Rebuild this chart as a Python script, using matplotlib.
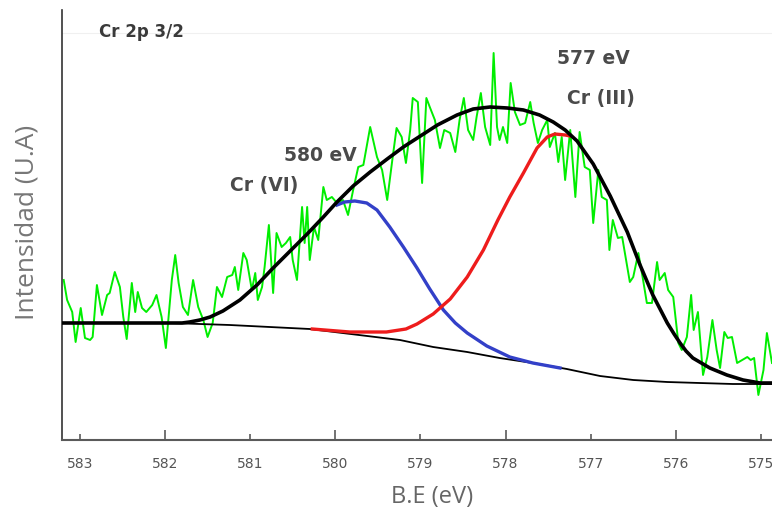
import numpy as np
import matplotlib
matplotlib.use('Agg')
from matplotlib import pyplot as plt
from matplotlib.ticker import FixedLocator, FormatStrFormatter

# raw spectrum (green), binding energy in eV and intensity (a.u.)
be_raw = [583.19, 583.15, 583.09, 583.05, 582.99, 582.94, 582.88, 582.85, 582.80, 582.74,
          582.68, 582.65, 582.59, 582.53, 582.49, 582.45, 582.39, 582.35, 582.32, 582.27,
          582.22, 582.15, 582.10, 582.04, 581.99, 581.92, 581.88, 581.84, 581.79, 581.73,
          581.67, 581.61, 581.55, 581.50, 581.44, 581.39, 581.33, 581.27, 581.21, 581.18,
          581.14, 581.08, 581.04, 580.98, 580.94, 580.91, 580.86, 580.83, 580.78, 580.73,
          580.69, 580.63, 580.58, 580.53, 580.50, 580.45, 580.39, 580.36, 580.33, 580.30,
          580.25, 580.20, 580.14, 580.10, 580.04, 579.98, 579.91, 579.85, 579.79, 579.73,
          579.67, 579.59, 579.51, 579.45, 579.39, 579.33, 579.28, 579.22, 579.17, 579.12,
          579.09, 579.03, 578.98, 578.93, 578.89, 578.83, 578.77, 578.72, 578.65, 578.59,
          578.54, 578.49, 578.44, 578.38, 578.34, 578.29, 578.24, 578.18, 578.14, 578.10,
          578.07, 578.03, 577.98, 577.94, 577.89, 577.83, 577.77, 577.71, 577.67, 577.62,
          577.57, 577.51, 577.48, 577.42, 577.38, 577.34, 577.30, 577.24, 577.18, 577.13,
          577.07, 577.01, 576.97, 576.91, 576.87, 576.81, 576.78, 576.74, 576.68, 576.63,
          576.54, 576.50, 576.44, 576.39, 576.34, 576.28, 576.22, 576.19, 576.13, 576.09,
          576.03, 575.97, 575.93, 575.87, 575.82, 575.79, 575.74, 575.68, 575.63, 575.57,
          575.52, 575.48, 575.43, 575.39, 575.34, 575.28, 575.22, 575.16, 575.12, 575.08,
          575.03, 574.97, 574.93, 574.87]
int_raw = [160, 140, 128, 98, 132, 102, 100, 103, 155, 125,
           145, 147, 168, 153, 123, 101, 157, 128, 148, 132,
           128, 135, 145, 123, 92, 160, 185, 157, 133, 125,
           160, 133, 120, 103, 117, 153, 143, 163, 165, 173,
           150, 187, 180, 150, 167, 140, 153, 173, 215, 147,
           207, 193, 197, 203, 180, 160, 233, 197, 233, 180,
           213, 200, 253, 240, 243, 237, 240, 225, 250, 273,
           275, 313, 283, 270, 240, 280, 312, 303, 277, 310,
           342, 338, 257, 342, 333, 320, 292, 310, 307, 288,
           320, 342, 310, 300, 323, 347, 313, 295, 387, 313,
           300, 313, 297, 357, 328, 315, 317, 338, 317, 297,
           310, 320, 293, 307, 278, 303, 260, 310, 243, 308,
           273, 270, 217, 270, 243, 240, 190, 220, 202, 203,
           158, 163, 187, 163, 137, 137, 178, 160, 167, 150,
           143, 97, 90, 103, 145, 110, 128, 65, 83, 120,
           90, 72, 108, 102, 103, 77, 80, 83, 80, 82,
           45, 70, 107, 77]

# fitted envelope (black)
be_fit = [583.21, 581.94, 581.80, 581.71, 581.59, 581.47, 581.32, 581.12, 580.92, 580.73,
          580.53, 580.33, 580.14, 579.98, 579.79, 579.59, 579.39, 579.20, 579.00, 578.80,
          578.57, 578.38, 578.18, 577.98, 577.79, 577.60, 577.44, 577.30, 577.16, 576.97,
          576.77, 576.57, 576.42, 576.27, 576.10, 576.02, 575.95, 575.88, 575.80, 575.70,
          575.60, 575.40, 575.21, 575.01, 574.87]
int_fit = [117, 117, 117, 118, 120, 123, 129, 140, 155, 172,
           189, 206, 223, 238, 254, 268, 281, 293, 304, 315,
           325, 331, 333, 332, 330, 325, 318, 310, 299, 276,
           244, 208, 175, 145, 117, 106, 97, 89, 82, 77,
           72, 65, 60, 57, 57]

# Shirley background
be_bg = [583.21, 581.94, 581.24, 580.30, 579.24, 578.85, 578.45, 578.07, 577.68, 577.28,
         576.89, 576.50, 576.10, 575.72, 575.33, 574.87]
int_bg = [117, 117, 115, 111, 100, 93, 88, 82, 77, 71,
          64, 60, 58, 57, 56, 56]

# Cr(VI) component (blue)
be_cr6 = [579.98, 579.89, 579.77, 579.63, 579.51, 579.36, 579.20, 579.04, 578.89, 578.73,
          578.59, 578.45, 578.22, 577.95, 577.68, 577.36]
int_cr6 = [235, 238, 239, 237, 230, 213, 193, 172, 151, 130,
           117, 107, 94, 83, 77, 72]

# Cr(III) component (red)
be_cr3 = [580.27, 579.83, 579.40, 579.17, 579.04, 578.85, 578.65, 578.45, 578.26, 578.09,
          577.95, 577.79, 577.63, 577.51, 577.42, 577.30, 577.24]
int_cr3 = [111, 108, 108, 111, 116, 126, 141, 163, 190, 220,
           243, 267, 292, 303, 306, 305, 304]

major_ticks = [582, 580, 578, 576]
minor_ticks = [583, 581, 579, 577, 575]

fig = plt.figure(figsize=(7.72, 5.13), dpi=100)
ax = fig.add_axes([62/772, 73/513, 710/772, 430/513])

ax.plot(be_raw, int_raw, color='#00ee00', lw=1.4, zorder=2)
ax.plot(be_bg, int_bg, color='black', lw=1.3, zorder=3)
ax.plot(be_cr6, int_cr6, color='#3340c8', lw=2.4, zorder=4)
ax.plot(be_cr3, int_cr3, color='#ee1c1c', lw=2.4, zorder=4)
ax.plot(be_fit, int_fit, color='black', lw=2.6, zorder=5)

ax.axhline(407, color='#f0f0f0', lw=0.8, zorder=0)

ax.set_xlim(583.21, 574.87)
ax.set_ylim(0, 430)

ax.spines['top'].set_visible(False)
ax.spines['right'].set_visible(False)
ax.spines['left'].set_color('#333333')
ax.spines['left'].set_linewidth(1.2)
ax.spines['bottom'].set_color('#5a5a5a')
ax.spines['bottom'].set_linewidth(1.5)

ax.set_yticks([])
ax.xaxis.set_major_locator(FixedLocator(major_ticks))
ax.xaxis.set_minor_locator(FixedLocator(minor_ticks))
ax.xaxis.set_major_formatter(FormatStrFormatter('%d'))
ax.xaxis.set_minor_formatter(FormatStrFormatter('%d'))
ax.tick_params(axis='x', which='major', direction='in', length=7, width=1.2,
               color='#5a5a5a', labelcolor='#555555', labelsize=10, pad=12)
ax.tick_params(axis='x', which='minor', direction='in', length=4, width=1.2,
               color='#5a5a5a', labelcolor='#555555', labelsize=10, pad=12)

fig.text(432/772, 1 - 497/513, 'B.E (eV)', ha='center', va='center',
         fontsize=17, color='#666666', family='Open Sans')
fig.text(27/772, 1 - 222/513, 'Intensidad (U.A)', ha='center', va='center',
         rotation=90, fontsize=19, color='#777777', family='Open Sans')

note = dict(fontsize=13.5, fontweight='bold', color='#4a4a4a', ha='center', va='center')
ax.text(580.17, 285, '580 eV', **note)
ax.text(580.83, 254, 'Cr (VI)', **note)
ax.text(576.97, 382, '577 eV', **note)
ax.text(576.88, 342, 'Cr (III)', **note)
ax.text(582.78, 408, 'Cr 2p 3/2', fontsize=12, fontweight='bold', color='#3a3a3a',
        ha='left', va='center')

fig.savefig('out.png', dpi=100)
